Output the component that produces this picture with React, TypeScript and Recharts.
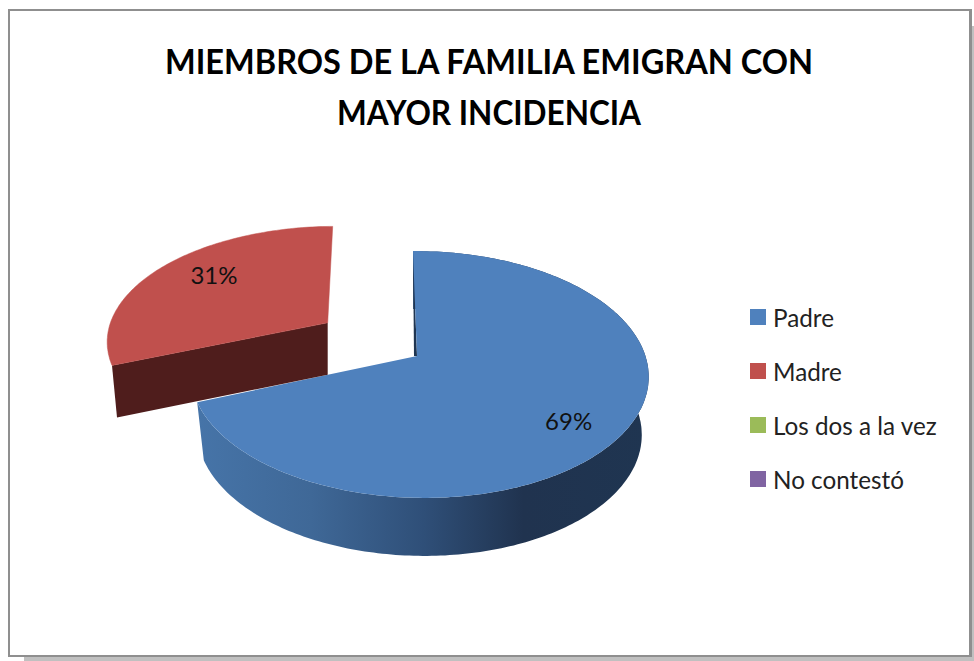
import { Legend, Pie, PieChart } from "recharts";

// ── Data ──────────────────────────────────────────────────────────────────────

const categories = ["Padre", "Madre", "Los dos a la vez", "No contestó"];
const percents = [69, 31, 0, 0];
const colors = ["#4f81bd", "#c0504d", "#9bbb59", "#8064a2"];
const titleLines = ["MIEMBROS DE LA FAMILIA EMIGRAN CON", "MAYOR INCIDENCIA"];

const pieData = categories.map((name, i) => ({ name, value: percents[i], fill: colors[i] }));

// ── 3D look ───────────────────────────────────────────────────────────────────

const TILT = 0.536; // vertical squash of the disc
const PERSP_V = 0.15; // front of the disc is nearer to the camera
const PERSP_U = -0.015; // right side a bit nearer too

const sliceLook = [
  { depth: 58, shrink: 0.97, yScale: 1, leftScale: 1.014, skew: -4, explode: 0, labelDx: 6, labelDy: 12 },
  { depth: 52, shrink: 0.977, yScale: 0.92, leftScale: 0.98, skew: 5, explode: 1, labelDx: 7, labelDy: -6 },
];

const RAD = Math.PI / 180;

function project(
  deg: number,
  r: number,
  radius: number,
  look: { yScale: number; leftScale: number; skew: number },
) {
  const u = Math.cos(deg * RAD) * r;
  const v = Math.sin(deg * RAD) * r;
  const w = 1 + PERSP_V * v + PERSP_U * u;
  return {
    x: ((radius * u) / w) * (u < 0 ? look.leftScale : 1) + look.skew * v,
    y: (-radius * TILT * v * look.yScale) / w,
  };
}

function apexOf(cx: number, cy: number, midAngle: number, look: { explode: number }) {
  return {
    x: cx + Math.cos(midAngle * RAD) * 108 * look.explode,
    y: cy - Math.sin(midAngle * RAD) * 59 * look.explode,
  };
}

const toPath = (pts: { x: number; y: number }[]) =>
  pts.map((p, i) => `${i ? "L" : "M"}${p.x.toFixed(1)},${p.y.toFixed(1)}`).join(" ") + " Z";

function Slice3D(props: any) {
  const { cx, cy, startAngle, endAngle, outerRadius, index, fill } = props;
  const look = sliceLook[index];
  if (!look || Math.abs(endAngle - startAngle) < 0.01) return null;

  const mid = (startAngle + endAngle) / 2;
  const apex = apexOf(cx, cy, mid, look);
  const at = (deg: number) => {
    const p = project(deg, 1, outerRadius, look);
    return { x: apex.x + p.x, y: apex.y + p.y };
  };
  const lower = (p: { x: number; y: number }) => ({
    x: apex.x + (p.x - apex.x) * look.shrink,
    y: p.y + look.depth,
  });

  const arc: { x: number; y: number }[] = [];
  const steps = Math.ceil(Math.abs(endAngle - startAngle));
  for (let i = 0; i <= steps; i++) arc.push(at(startAngle + ((endAngle - startAngle) * i) / steps));

  const first = arc[0];

  if (index === 0) {
    // Padre: outer wall with a gradient, plus the sliver on the vertical cut
    const wall = [...arc, ...arc.map(lower).reverse()];
    return (
      <g>
        <defs>
          <linearGradient id="padreWall" gradientUnits="userSpaceOnUse" x1={198} x2={650} y1={0} y2={0}>
            <stop offset="0" stopColor="#4674a8" />
            <stop offset="0.25" stopColor="#3f6897" />
            <stop offset="0.5" stopColor="#2f4f78" />
            <stop offset="0.72" stopColor="#20334f" />
            <stop offset="1" stopColor="#1f3551" />
          </linearGradient>
        </defs>
        <path d={toPath(wall)} fill="url(#padreWall)" />
        <path d={toPath([first, apex, { x: apex.x - 3, y: apex.y }])} fill="#1f3551" />
        <path d={toPath([apex, ...arc])} fill={fill} />
      </g>
    );
  }

  // Madre: only the cut facing the viewer shows
  return (
    <g>
      <path d={toPath([apex, first, lower(first), lower(apex)])} fill="#4f1d1c" />
      <path d={toPath([apex, ...arc])} fill={fill} stroke={fill} strokeWidth={0.5} />
    </g>
  );
}

function PercentLabel(props: any) {
  const { cx, cy, midAngle, value, outerRadius, index } = props;
  const look = sliceLook[index];
  if (!look || !value) return null;
  const apex = apexOf(cx, cy, midAngle, look);
  const p = project(midAngle, 0.72, outerRadius, look);
  return (
    <text
      x={apex.x + p.x + look.labelDx}
      y={apex.y + p.y + look.labelDy}
      textAnchor="middle"
      dominantBaseline="central"
      fontFamily="Lato"
      fontSize={24}
      fill="#111"
    >
      {value}%
    </text>
  );
}

function LegendRows() {
  return (
    <div style={{ fontFamily: "Lato", fontSize: 25, color: "#222" }}>
      {categories.map((name, i) => (
        <div key={name} style={{ display: "flex", alignItems: "center", height: 54 }}>
          <span style={{ width: 16, height: 16, background: colors[i], marginRight: 7, flex: "none" }} />
          <span style={{ display: "inline-block", transform: "scaleX(0.97)", transformOrigin: "left center", whiteSpace: "nowrap" }}>
            {name}
          </span>
        </div>
      ))}
    </div>
  );
}

export default function App() {
  return (
    <div style={{ position: "absolute", left: 0, top: 0, width: 974, height: 661, background: "#fff", overflow: "hidden" }}>
      {/* shadow + frame */}
      <div style={{ position: "absolute", left: 24, top: 26, width: 950, height: 635, background: "#c0c0c0" }} />
      <div
        style={{
          position: "absolute",
          left: 8,
          top: 9,
          width: 964,
          height: 648,
          boxSizing: "border-box",
          background: "#fff",
          borderStyle: "solid",
          borderColor: "#8f8f8f",
          borderWidth: "2px 3px 2px 2px",
        }}
      />
      <div style={{ position: "absolute", left: 0, top: 0 }}>
        <PieChart width={974} height={661} margin={{ top: 0, right: 0, bottom: 0, left: 0 }}>
          <text
            x={489}
            y={60}
            textAnchor="middle"
            dominantBaseline="central"
            fontFamily="Lato"
            fontWeight={700}
            fontSize={35}
            fill="#000"
            textLength={648}
            lengthAdjust="spacingAndGlyphs"
          >
            {titleLines[0]}
          </text>
          <text
            x={489}
            y={111}
            textAnchor="middle"
            dominantBaseline="central"
            fontFamily="Lato"
            fontWeight={700}
            fontSize={35}
            fill="#000"
            textLength={304}
            lengthAdjust="spacingAndGlyphs"
          >
            {titleLines[1]}
          </text>
          <Pie
            data={pieData}
            dataKey="value"
            nameKey="name"
            cx={417}
            cy={356}
            outerRadius={225}
            startAngle={90}
            endAngle={-270}
            shape={Slice3D}
            label={PercentLabel}
            labelLine={false}
            isAnimationActive={false}
          />
          <Legend
            content={LegendRows}
            wrapperStyle={{ position: "absolute", left: 750, top: 290, width: 215, bottom: "auto", right: "auto" }}
          />
        </PieChart>
      </div>
    </div>
  );
}
